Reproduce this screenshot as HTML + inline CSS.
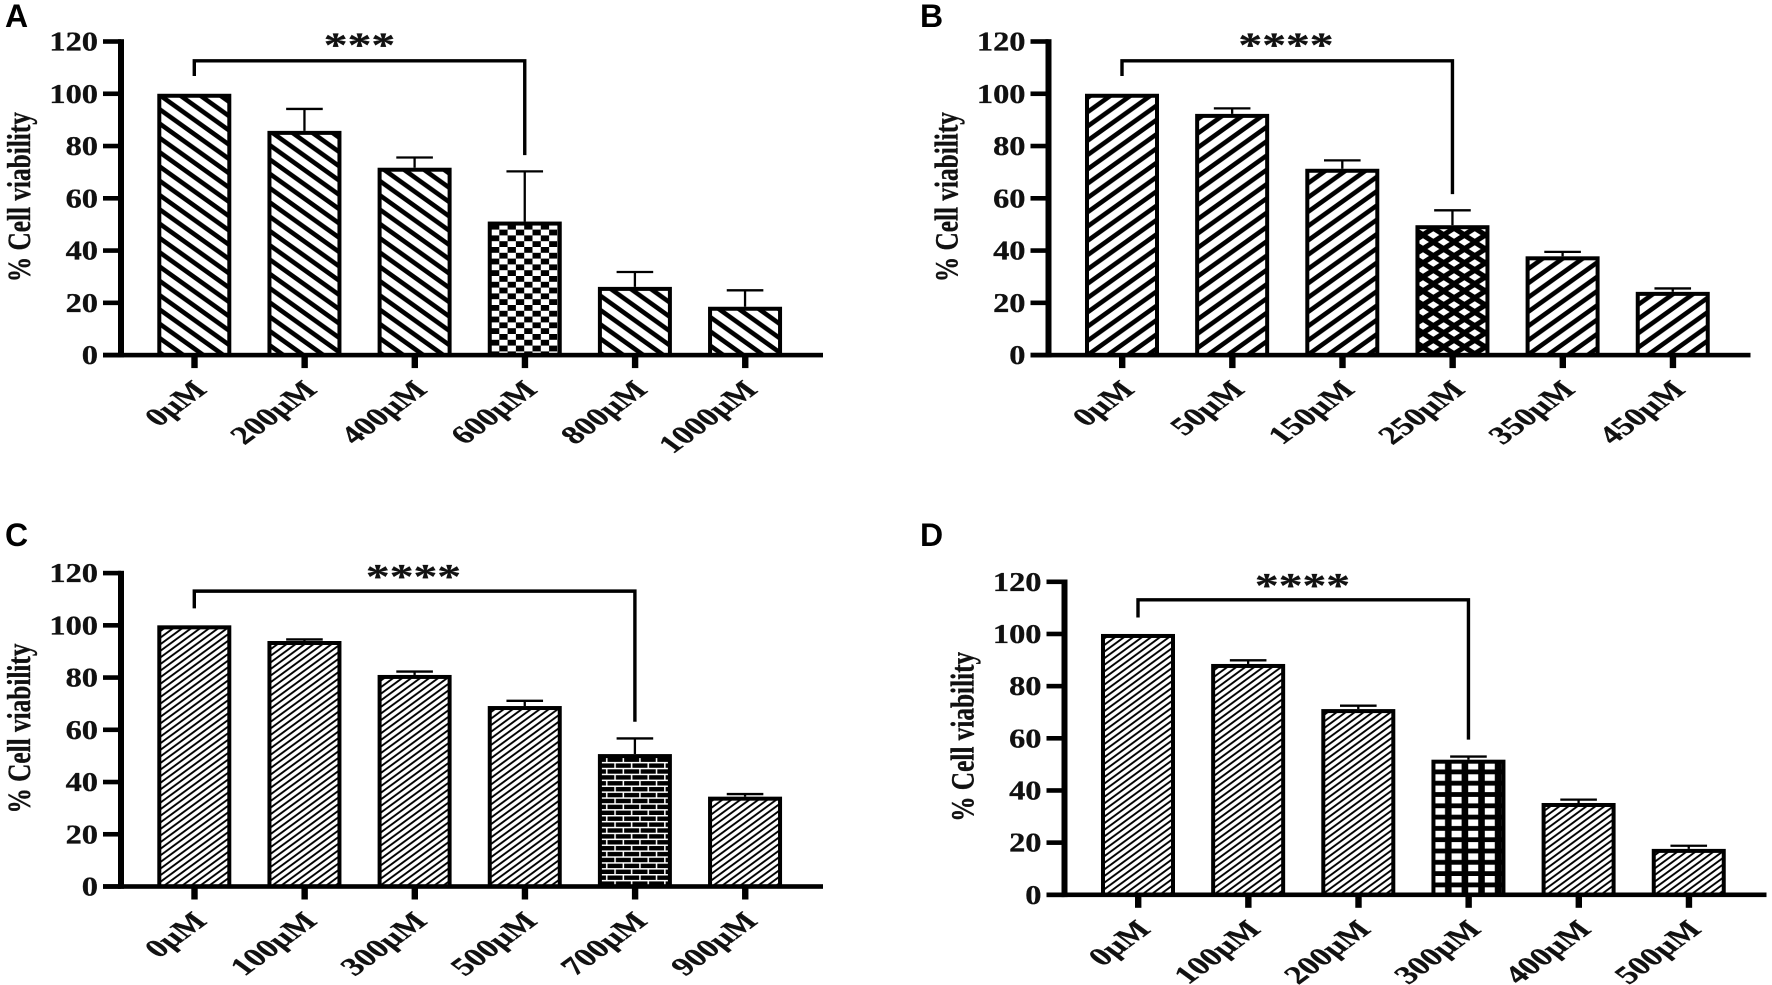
<!DOCTYPE html>
<html lang="en">
<head>
<meta charset="utf-8">
<title>Cell viability panels</title>
<style>
html,body{margin:0;padding:0;background:#fff;width:1772px;height:985px;overflow:hidden}
svg{display:block}
text{font-family:"Liberation Serif",serif;font-weight:bold;fill:#111;stroke:#111;stroke-width:.3}
.panel-letter{font-family:"Liberation Sans",sans-serif;font-size:32px;fill:#000;stroke:none}
</style>
</head>
<body>
<svg id="figure" xmlns="http://www.w3.org/2000/svg" width="1772" height="985" viewBox="0 0 1772 985">
<defs>
<pattern id="hatch-a" patternUnits="userSpaceOnUse" width="20" height="14.3" x="161" y="96">
<rect width="20" height="14.3" fill="#fff"/>
<path d="M-20 -14.3L40 28.6M-40 -14.3L20 28.6M0 -14.3L60 28.6" stroke="#000" stroke-width="4.6" fill="none"/>
</pattern>
<pattern id="hatch-b" patternUnits="userSpaceOnUse" width="20" height="14.3" x="1090" y="96">
<rect width="20" height="14.3" fill="#fff"/>
<path d="M-20 28.6L40 -14.3M-40 28.6L20 -14.3M0 28.6L60 -14.3" stroke="#000" stroke-width="4.6" fill="none"/>
</pattern>
<pattern id="hatch-fine" patternUnits="userSpaceOnUse" width="9" height="6.6" x="161" y="96">
<rect width="9" height="6.6" fill="#fff"/>
<path d="M-9 13.2L18 -6.6M-18 13.2L9 -6.6M0 13.2L27 -6.6" stroke="#000" stroke-width="1.9" fill="none"/>
</pattern>
<pattern id="checker" patternUnits="userSpaceOnUse" width="16.6" height="11.6" x="491" y="247">
<rect width="16.6" height="11.6" fill="#fff"/>
<rect x="0" y="0" width="8.3" height="5.8" fill="#000"/>
<rect x="8.3" y="5.8" width="8.3" height="5.8" fill="#000"/>
</pattern>
<pattern id="diamonds" patternUnits="userSpaceOnUse" width="20.7" height="14" x="1423" y="228">
<rect width="20.7" height="14" fill="#000"/>
<path d="M10.35 3.2L16.3 7L10.35 10.8L4.4 7Z" fill="#fff"/>
<path d="M0 -3.8L5.95 0L0 3.8L-5.95 0Z" fill="#fff"/>
<path d="M20.7 -3.8L26.65 0L20.7 3.8L14.75 0Z" fill="#fff"/>
<path d="M0 10.2L5.95 14L0 17.8L-5.95 14Z" fill="#fff"/>
<path d="M20.7 10.2L26.65 14L20.7 17.8L14.75 14Z" fill="#fff"/>
</pattern>
<pattern id="bricks" patternUnits="userSpaceOnUse" width="16.6" height="11.8" x="602" y="756">
<rect width="16.6" height="11.8" fill="#000"/>
<rect y="0" width="16.6" height="1.5" fill="#fff"/>
<rect y="5.9" width="16.6" height="1.5" fill="#fff"/>
<rect x="4" y="0" width="1.5" height="5.9" fill="#fff"/>
<rect x="12.3" y="5.9" width="1.5" height="5.9" fill="#fff"/>
</pattern>
<pattern id="grid" patternUnits="userSpaceOnUse" width="16.6" height="11.3" x="1435" y="763">
<rect width="16.6" height="11.3" fill="#000"/>
<rect x="0" y="0" width="10" height="6.5" fill="#fff"/>
</pattern>
</defs>
<text class="panel-letter" x="5" y="27">A</text>
<text class="panel-letter" x="920" y="27">B</text>
<text class="panel-letter" x="5" y="546">C</text>
<text class="panel-letter" x="920" y="546">D</text>
</svg>
<script>
const yTickValues = [0, 20, 40, 60, 80, 100, 120];
const yAxisMax = 120;
const yTitle = '% Cell viability';

const categoriesA = ['0µM', '200µM', '400µM', '600µM', '800µM', '1000µM'];
const valuesA = [100, 85.8, 71.7, 51.1, 26.1, 18.5];
const errorsA = [0, 8.4, 3.9, 19.2, 5.7, 6.3];
const significanceA = '***';

const categoriesB = ['0µM', '50µM', '150µM', '250µM', '350µM', '450µM'];
const valuesB = [100, 92.3, 71.3, 49.7, 37.8, 24.2];
const errorsB = [0, 2.1, 3.2, 5.7, 1.7, 1.3];
const significanceB = '****';

const categoriesC = ['0µM', '100µM', '300µM', '500µM', '700µM', '900µM'];
const valuesC = [100, 94, 81, 69.1, 50.7, 34.4];
const errorsC = [0, 0.6, 1.3, 2, 6, 1];
const significanceC = '****';

const categoriesD = ['0µM', '100µM', '200µM', '300µM', '400µM', '500µM'];
const valuesD = [100, 88.5, 71.2, 51.8, 35.2, 17.6];
const errorsD = [0, 1.4, 1.3, 1.2, 1.3, 1.2];
const significanceD = '****';

const SVG_NS = 'http://www.w3.org/2000/svg';
const figure = document.getElementById('figure');
const STRETCH = 1.36;

function make(parent, tag, attrs, text) {
  const node = document.createElementNS(SVG_NS, tag);
  for (const key in attrs) node.setAttribute(key, attrs[key]);
  if (text !== undefined) node.textContent = text;
  parent.appendChild(node);
  return node;
}

function drawPanel(p) {
  const plotHeight = p.baseY - p.topY;
  const yScale = v => p.baseY - (v / yAxisMax) * plotHeight;
  const xScale = i => p.firstX + i * p.stepX;

  const group = make(figure, 'g', {});
  
  

  p.values.forEach((v, i) => {
    const left = xScale(i) - 37;
    const top = yScale(v);
    const fillId = i === p.treated ? p.treatedFill : p.fill;

    if (p.errors[i] > 0) {
      const errTop = yScale(v + p.errors[i]);
      const stem = make(group, 'line', {x1: xScale(i), x2: xScale(i), y1: errTop, y2: top, stroke: '#000', 'stroke-width': 2.3});
      
      
      const cap = make(group, 'line', {x1: xScale(i) - 18.3, x2: xScale(i) + 18.3, y1: errTop, y2: errTop, stroke: '#000', 'stroke-width': 2.3});
      
      
    }

    const bar = make(group, 'rect', {x: left + 2, y: top + 2, width: 70, height: p.baseY - top - 2, fill: 'url(#' + fillId + ')', stroke: '#000', 'stroke-width': 4});
    
    

    const tick = make(group, 'rect', {x: xScale(i) - 3, y: p.baseY, width: 6.4, height: 13, fill: '#000'});
    
    

    const label = make(group, 'text', {'font-size': 25.5, 'text-anchor': 'end', transform: 'translate(' + (xScale(i) + 14) + ' ' + (p.baseY + 36) + ') scale(' + STRETCH + ' 1) rotate(-45)'}, p.categories[i]);
    
    
  });

  yTickValues.forEach(v => {
    const tick = make(group, 'rect', {x: p.axisX - 18, y: yScale(v) - 2.3, width: 18, height: 4.6, fill: '#000'});
    
    
    const label = make(group, 'text', {'font-size': 27, 'text-anchor': 'end', transform: 'translate(' + (p.axisX - 23) + ' ' + (yScale(v) + 9) + ') scale(1.2 1)'}, String(v));
    
    
  });

  const yAxis = make(group, 'rect', {x: p.axisX - 3, y: p.topY - 2.3, width: 6, height: plotHeight + 4.6, fill: '#000'});
  
  

  const xAxis = make(group, 'rect', {x: p.axisX - 18, y: p.baseY - 2.3, width: p.axisLen, height: 4.6, fill: '#000'});
  
  

  const title = make(group, 'text', {'font-size': 25.3, 'text-anchor': 'middle', transform: 'translate(' + (p.axisX - 91) + ' ' + (p.baseY - 158) + ') scale(1.3 1) rotate(-90)'}, yTitle);
  
  

  const bracketLeft = xScale(0);
  const bracketRight = xScale(p.treated);
  const bracket = make(group, 'path', {d: 'M' + bracketLeft + ' ' + yScale(p.legLeft) + 'V' + yScale(p.bracketLevel) + 'H' + bracketRight + 'V' + yScale(p.values[p.treated] + p.errors[p.treated] + p.legGap), fill: 'none', stroke: '#000', 'stroke-width': 3.4});
  
  

  const stars = make(group, 'text', {'font-size': 35, 'text-anchor': 'middle', transform: 'translate(' + p.starX + ' ' + (p.topY + 15) + ') scale(' + STRETCH + ' 1)'}, p.stars);
  
  
}

drawPanel({id: 'a', categories: categoriesA, values: valuesA, errors: errorsA, stars: significanceA, axisX: 121, firstX: 194.3, stepX: 110.15, topY: 41.5, baseY: 355.1, axisLen: 720, fill: 'hatch-a', treated: 3, treatedFill: 'checker', bracketLevel: 112.6, legLeft: 106.8, legGap: 6.2, starX: 359.5});
drawPanel({id: 'b', categories: categoriesB, values: valuesB, errors: errorsB, stars: significanceB, axisX: 1048.5, firstX: 1122, stepX: 110.15, topY: 41.5, baseY: 355.1, axisLen: 720, fill: 'hatch-b', treated: 3, treatedFill: 'diamonds', bracketLevel: 112.6, legLeft: 106.8, legGap: 6.2, starX: 1286});
drawPanel({id: 'c', categories: categoriesC, values: valuesC, errors: errorsC, stars: significanceC, axisX: 121, firstX: 194.3, stepX: 110.15, topY: 573.1, baseY: 886.5, axisLen: 720, fill: 'hatch-fine', treated: 4, treatedFill: 'bricks', bracketLevel: 113.1, legLeft: 106.5, legGap: 6.4, starX: 413.5});
drawPanel({id: 'd', categories: categoriesD, values: valuesD, errors: errorsD, stars: significanceD, axisX: 1064.5, firstX: 1138, stepX: 110.15, topY: 581.8, baseY: 894.8, axisLen: 720, fill: 'hatch-fine', treated: 3, treatedFill: 'grid', bracketLevel: 113.1, legLeft: 106.3, legGap: 6.5, starX: 1302.5});
</script>
</body>
</html>
